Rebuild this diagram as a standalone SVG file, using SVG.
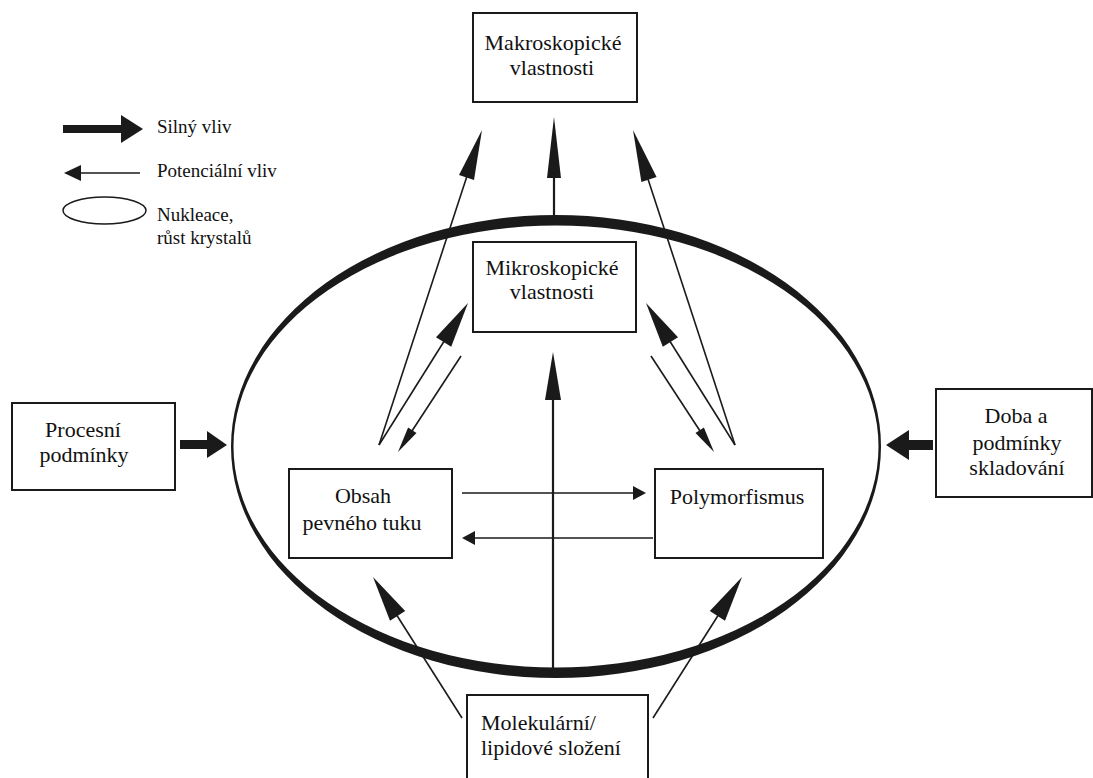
<svg xmlns="http://www.w3.org/2000/svg" width="1093" height="778" viewBox="0 0 1093 778">
<style>
.box{fill:#fff;stroke:#1a1a1a;stroke-width:2}
.t{font-family:'Liberation Serif','Tinos','Times New Roman','Noto Serif','DejaVu Serif','FreeSerif',serif;font-size:22px;fill:#111}
.lg{font-family:'Liberation Serif','Tinos','Times New Roman','Noto Serif','DejaVu Serif','FreeSerif',serif;font-size:19px;fill:#111}
.ln{stroke:#1a1a1a;stroke-width:1.6;fill:none}
.lnv{stroke:#1a1a1a;stroke-width:2.2;fill:none}
.hd{fill:#1a1a1a;stroke:none}
</style>
<rect width="1093" height="778" fill="#fff"/>

<g id="nucleation-ellipse">
<path fill="#1a1a1a" fill-rule="evenodd" d="M231,446.5 a325,231.5 0 1,0 650,0 a325,231.5 0 1,0 -650,0 Z M233.5,446.5 a322.5,221 0 1,0 645,0 a322.5,221 0 1,0 -645,0 Z"/>
</g>

<g id="legend">
<rect x="63" y="125" width="60" height="8" class="hd"/>
<polygon points="121,115 143,129 121,143" class="hd"/>
<text x="157" y="133" class="lg">Silný vliv</text>
<line x1="140" y1="173" x2="75" y2="173" class="ln"/>
<polygon points="64,173 81,165 81,181" class="hd"/>
<text x="157" y="177" class="lg">Potenciální vliv</text>
<ellipse cx="104.5" cy="210.5" rx="41.5" ry="13.5" fill="none" stroke="#1a1a1a" stroke-width="1.5"/>
<text x="157" y="221" class="lg">Nukleace,</text>
<text x="157" y="244" class="lg">růst krystalů</text>
</g>

<g id="connectors">
<line x1="554" y1="216" x2="554" y2="170" class="lnv"/>
<polygon points="554,117 561,178 547,178" class="hd"/>
<line x1="379" y1="445" x2="468" y2="173" class="ln"/>
<polygon points="482,130 474,180 459,175" class="hd"/>
<line x1="735" y1="445" x2="646" y2="173" class="ln"/>
<polygon points="633,130 656.6,177 641.4,182" class="hd"/>
<line x1="379" y1="445" x2="448" y2="335" class="ln"/>
<polygon points="468,303 451.2,346.8 436,337.2" class="hd"/>
<line x1="461" y1="356" x2="410" y2="434" class="ln"/>
<polygon points="398,452 416.5,433 408.1,427.6" class="hd"/>
<line x1="735" y1="445" x2="666" y2="335" class="ln"/>
<polygon points="646,303 678,337.2 662.8,346.8" class="hd"/>
<line x1="651" y1="356" x2="702" y2="434" class="ln"/>
<polygon points="714,452 703.9,427.6 695.5,433" class="hd"/>
<line x1="462" y1="493" x2="635" y2="493" class="ln"/>
<polygon points="646,493 633,486 633,500" class="hd"/>
<line x1="653" y1="538" x2="473" y2="538" class="ln"/>
<polygon points="462,538 475,531 475,545" class="hd"/>
<line x1="553" y1="668" x2="553" y2="395" class="lnv"/>
<polygon points="553,352 561,400 545,400" class="hd"/>
<line x1="462" y1="718" x2="396" y2="614" class="ln"/>
<polygon points="373,577 405.2,611.1 390,620.7" class="hd"/>
<line x1="653" y1="718" x2="719" y2="614" class="ln"/>
<polygon points="742,577 725,620.7 709.8,611.1" class="hd"/>
<rect x="180" y="440" width="29" height="9" class="hd"/>
<polygon points="207,431 227,445 207,458" class="hd"/>
<rect x="907" y="440" width="26" height="10" class="hd"/>
<polygon points="909,430 886,445 909,460" class="hd"/>
</g>

<g id="makro">
<rect x="473" y="13" width="164" height="89" class="box"/>
<text x="553" y="50" text-anchor="middle" class="t">Makroskopické</text>
<text x="552" y="75" text-anchor="middle" class="t">vlastnosti</text>
</g>
<g id="mikro">
<rect x="473" y="242" width="163" height="90" class="box"/>
<text x="552" y="275" text-anchor="middle" class="t">Mikroskopické</text>
<text x="552" y="299" text-anchor="middle" class="t">vlastnosti</text>
</g>
<g id="procesni">
<rect x="12" y="403" width="163" height="87" class="box"/>
<text x="83" y="437" text-anchor="middle" class="t">Procesní</text>
<text x="84" y="462" text-anchor="middle" class="t">podmínky</text>
</g>
<g id="doba">
<rect x="936" y="389" width="156" height="108" class="box"/>
<text x="1016" y="423" text-anchor="middle" class="t">Doba a</text>
<text x="1017" y="450" text-anchor="middle" class="t">podmínky</text>
<text x="1017" y="475" text-anchor="middle" class="t">skladování</text>
</g>
<g id="obsah">
<rect x="289" y="469" width="163" height="89" class="box"/>
<text x="363" y="503" text-anchor="middle" class="t">Obsah</text>
<text x="362" y="530" text-anchor="middle" class="t">pevného tuku</text>
</g>
<g id="polymorfismus">
<rect x="655" y="469" width="168" height="89" class="box"/>
<text x="737" y="504" text-anchor="middle" class="t">Polymorfismus</text>
</g>
<g id="molekularni">
<rect x="467" y="695" width="181" height="95" class="box"/>
<text x="481" y="730" class="t">Molekulární/</text>
<text x="481" y="755" class="t">lipidové složení</text>
</g>
</svg>
